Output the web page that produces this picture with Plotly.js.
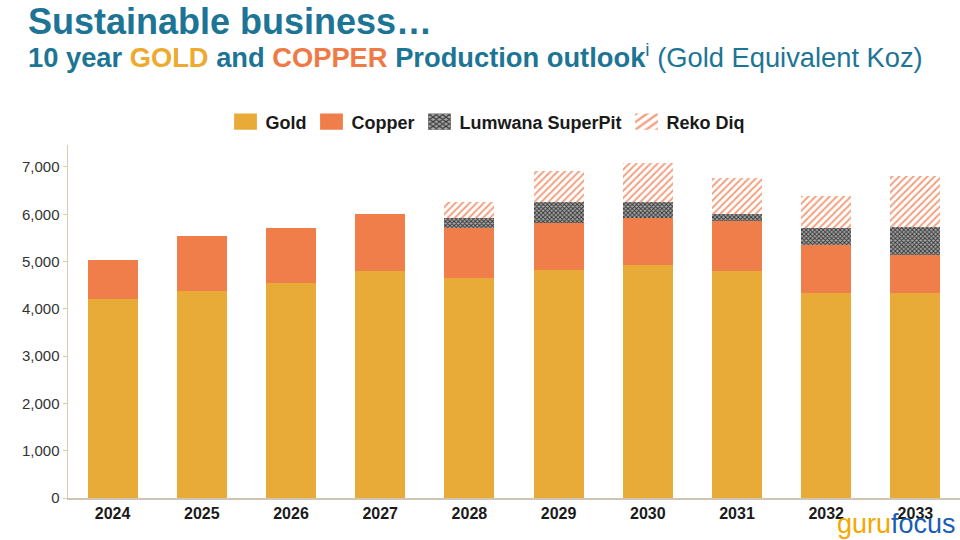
<!DOCTYPE html>
<html>
<head>
<meta charset="utf-8">
<script src="https://cdn.plot.ly/plotly-3.0.1.min.js"></script>
<style>html,body{margin:0;padding:0;background:#fff;}#chart{width:960px;height:540px;}</style>
</head>
<body>
<div id="chart"></div>
<script>
const years = ["2024","2025","2026","2027","2028","2029","2030","2031","2032","2033"];
const gold    = [4210, 4370, 4550, 4810, 4650, 4830, 4920, 4800, 4330, 4330];
const copper  = [830, 1180, 1150, 1190, 1060, 990, 1000, 1050, 1020, 800];
const lumwana = [0, 0, 0, 0, 220, 430, 350, 160, 350, 600];
const rekoDiq = [0, 0, 0, 0, 330, 660, 810, 750, 690, 1090];
const yTicks  = [0, 1000, 2000, 3000, 4000, 5000, 6000, 7000];
const yTickText = ["0", "1,000", "2,000", "3,000", "4,000", "5,000", "6,000", "7,000"];

const W = 0.56;
const traces = [
  {type:'bar', name:'Gold', x:years, y:gold, width:W,
   marker:{color:'#e9ab38', line:{width:0}}},
  {type:'bar', name:'Copper', x:years, y:copper, width:W,
   marker:{color:'#ef7e4b', line:{width:0}}},
  {type:'bar', name:'Lumwana SuperPit', x:years, y:lumwana, width:W,
   marker:{color:'#8a8a8a', line:{width:0},
     pattern:{shape:'x', fgcolor:'#333333', bgcolor:'#a8a8a8', size:3, solidity:0.5}}},
  {type:'bar', name:'Reko Diq', x:years, y:rekoDiq, width:W,
   marker:{color:'#ffffff', line:{width:0},
     pattern:{shape:'/', fgcolor:'#f2a080', bgcolor:'#ffffff', size:5, solidity:0.4}}}
];

const L = 68, T = 145, B = 42;
const plotH = 540 - T - B;
function py(pix){ return (540 - B - pix) / plotH; }
function px(pix){ return (pix - L) / (960 - L); }

const layout = {
  width:960, height:540,
  margin:{l:L, r:0, t:T, b:B, pad:0},
  paper_bgcolor:'#ffffff', plot_bgcolor:'#ffffff',
  barmode:'stack',
  showlegend:true,
  legend:{orientation:'h', x:px(488), xanchor:'center', y:py(122), yanchor:'middle',
    font:{family:'Liberation Sans, Arial, sans-serif', size:18, color:'#1a1a1a', weight:'bold'},
    traceorder:'normal', itemclick:false, itemdoubleclick:false, itemwidth:30},
  xaxis:{type:'category', range:[-0.5, 9.5], showgrid:false, zeroline:false,
    showline:true, linecolor:'#cfc5b2', linewidth:1.5, ticks:'',
    tickfont:{family:'Liberation Sans, Arial, sans-serif', size:16, color:'#1a1a1a', weight:'bold'},
    ticklabelstandoff:0},
  yaxis:{range:[0, 7465], tickvals:yTicks, ticktext:yTickText, showgrid:false, zeroline:false,
    showline:true, linecolor:'#dccba8', linewidth:1.5, ticks:'outside', ticklen:4, tickcolor:'#dccba8',
    tickfont:{family:'Liberation Sans, Arial, sans-serif', size:15, color:'#333333'}},
  annotations:[
    {xref:'paper', yref:'paper', x:px(26), y:py(21.5), xanchor:'left', yanchor:'middle', showarrow:false,
     text:'<b>Sustainable business…</b>',
     font:{family:'Liberation Sans, Arial, sans-serif', size:36, color:'#1d7596'}},
    {xref:'paper', yref:'paper', x:px(26), y:py(56.5), xanchor:'left', yanchor:'middle', showarrow:false,
     text:'<b>10 year <span style="color:#eeaa2e">GOLD</span> and <span style="color:#ef7a45">COPPER</span> Production outlook</b><sup>i</sup> (Gold Equivalent Koz)',
     font:{family:'Liberation Sans, Arial, sans-serif', size:27.3, color:'#1d7596'}},
    {xref:'paper', yref:'paper', x:px(958), y:py(524), xanchor:'right', yanchor:'middle', showarrow:false,
     text:'<span style="color:#f5a800">guru</span><span style="color:#1a5fb4">focus</span>',
     font:{family:'Liberation Sans, Arial, sans-serif', size:27}}
  ]
};

Plotly.newPlot('chart', traces, layout, {displayModeBar:false, staticPlot:true}).then(function(){
  document.querySelectorAll('.legend .legendpoints path').forEach(function(p){
    var bb = p.getBBox();
    var cx = bb.x + bb.width/2, cy = bb.y + bb.height/2;
    var old = p.getAttribute('transform') || '';
    p.setAttribute('transform', old + ' translate(' + cx + ',' + cy + ') scale(1.9,1.35) translate(' + (-cx) + ',' + (-cy) + ')');
  });
});
</script>
</body>
</html>
